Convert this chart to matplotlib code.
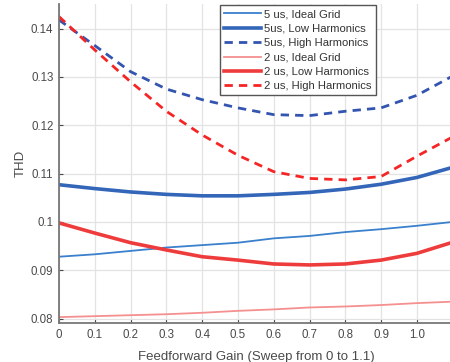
import matplotlib
matplotlib.use('Agg')
import matplotlib.pyplot as plt

plt.rcParams['font.family'] = ['Liberation Sans', 'DejaVu Sans']

# feedforward gain sweep
gain = [0, 0.1, 0.2, 0.3, 0.4, 0.5, 0.6, 0.7, 0.8, 0.9, 1.0, 1.1]

# THD values
thd_5us_ideal = [0.0928, 0.0933, 0.0940, 0.0947, 0.0952, 0.0957, 0.0966, 0.0971, 0.0979, 0.0985, 0.0992, 0.1000]
thd_5us_low = [0.1077, 0.1069, 0.1062, 0.1057, 0.1054, 0.1054, 0.1057, 0.1061, 0.1068, 0.1078, 0.1092, 0.1113]
thd_5us_high = [0.1418, 0.1365, 0.1311, 0.1275, 0.1253, 0.1236, 0.1222, 0.1220, 0.1229, 0.1236, 0.1262, 0.1302]
thd_2us_ideal = [0.0803, 0.0805, 0.0807, 0.0809, 0.0812, 0.0816, 0.0819, 0.0823, 0.0825, 0.0828, 0.0832, 0.0835]
thd_2us_low = [0.0998, 0.0977, 0.0957, 0.0942, 0.0928, 0.0921, 0.0913, 0.0911, 0.0913, 0.0921, 0.0935, 0.0958]
thd_2us_high = [0.1425, 0.1356, 0.1290, 0.1229, 0.1180, 0.1138, 0.1104, 0.1090, 0.1087, 0.1094, 0.1136, 0.1176]

labels = ['5 us, Ideal Grid', '5us, Low Harmonics', '5us, High Harmonics',
          '2 us, Ideal Grid', '2 us, Low Harmonics', '2 us, High Harmonics']
xticks = [0, 0.1, 0.2, 0.3, 0.4, 0.5, 0.6, 0.7, 0.8, 0.9, 1.0]
xtick_labels = ['0', '0.1', '0.2', '0.3', '0.4', '0.5', '0.6', '0.7', '0.8', '0.9', '1.0']
yticks = [0.08, 0.09, 0.1, 0.11, 0.12, 0.13, 0.14]
ytick_labels = ['0.08', '0.09', '0.1', '0.11', '0.12', '0.13', '0.14']

fig = plt.figure(figsize=(4.5, 3.62), dpi=100)
ax = fig.add_axes([0.131, 0.107, 0.875, 0.882])

ax.plot(gain, thd_5us_ideal, color='#3a80cc', lw=1.3, label=labels[0])
ax.plot(gain, thd_5us_low, color='#3366b8', lw=2.6, label=labels[1])
ax.plot(gain, thd_5us_high, color='#3355b0', lw=2.0, ls=(0, (3, 2.2)), label=labels[2])
ax.plot(gain, thd_2us_ideal, color='#f59090', lw=1.3, label=labels[3])
ax.plot(gain, thd_2us_low, color='#ee3c3c', lw=2.6, label=labels[4])
ax.plot(gain, thd_2us_high, color='#f52525', lw=2.0, ls=(0, (3, 2.2)), label=labels[5])

ax.set_xlim(0, 1.1)
ax.set_ylim(0.07903, 0.1451)
ax.set_xticks(xticks)
ax.set_xticklabels(xtick_labels)
ax.set_yticks(yticks)
ax.set_yticklabels(ytick_labels)
ax.tick_params(direction='in', length=3, labelsize=8.3, colors='#4a4a4a', pad=4)
ax.grid(True, color='#e3e3e3', lw=0.9)
ax.set_axisbelow(True)
for s in ['top', 'right']:
    ax.spines[s].set_visible(False)
for s in ['left', 'bottom']:
    ax.spines[s].set_color('#777777')
    ax.spines[s].set_linewidth(1.3)

ax.set_xlabel('Feedforward Gain (Sweep from 0 to 1.1)', fontsize=9.5, color='#4a4a4a', labelpad=7)
ax.set_ylabel('THD', fontsize=9.5, color='#4a4a4a', labelpad=3)

leg = ax.legend(loc='upper left', bbox_to_anchor=(0.4, 1.006), fontsize=8.1,
                handlelength=3.3, handletextpad=0.3, labelspacing=0.39,
                borderpad=0.35, borderaxespad=0.3, fancybox=False, framealpha=1.0)
leg.get_frame().set_edgecolor('#555555')
leg.get_frame().set_linewidth(1.0)
for t in leg.get_texts():
    t.set_color('#333333')

fig.savefig('out.png', dpi=100)
